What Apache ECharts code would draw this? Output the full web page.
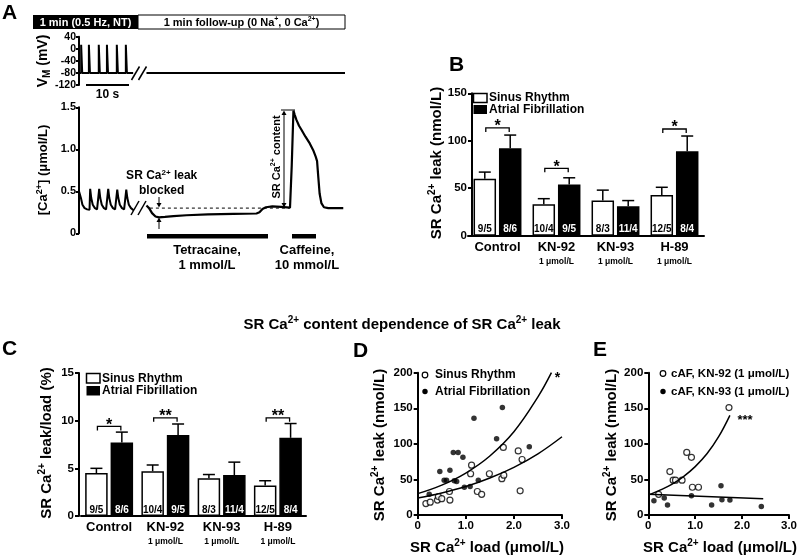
<!DOCTYPE html>
<html><head><meta charset="utf-8">
<script src="https://cdn.jsdelivr.net/npm/echarts@6/dist/echarts.min.js"></script>
<style>html,body{margin:0;padding:0;background:#fff}#c{width:800px;height:557px}</style>
</head><body><div id="c"></div>
<script>
// ---------------- DATA ----------------
// Panel A: membrane potential (mV) and [Ca2+] trace (µmol/L) vs time (s)
const vmSpikeTimes = [0.5, 2.3, 4.6, 6.5, 8.8, 10.9];
const vmRest = -80;
const vmPeak = 13;
const vmStimEnd = 12.6;
const vmFollowStart = 15.7;
const vmFollowEnd = 61.9;
const caStim = [
  [0,0.50],[0.15,0.52],[0.45,0.42],[0.8,0.34],[1.3,0.30],[1.9,0.285],[2.45,0.28],
  [2.6,0.53],[2.85,0.42],[3.2,0.34],[3.7,0.30],[4.2,0.285],[4.55,0.28],
  [4.7,0.53],[4.95,0.42],[5.3,0.34],[5.8,0.30],[6.3,0.285],[6.65,0.28],
  [6.8,0.53],[7.05,0.42],[7.4,0.34],[7.9,0.30],[8.4,0.285],[8.75,0.28],
  [8.9,0.52],[9.15,0.42],[9.5,0.34],[10.0,0.30],[10.5,0.285],[10.85,0.28],
  [11.0,0.52],[11.25,0.42],[11.6,0.34],[12.1,0.30],[12.7,0.275]
];
const caFollow = [
  [15.7,0.33],[16.3,0.30],[17.0,0.24],[17.8,0.20],[18.6,0.19],[20,0.195],[22,0.205],
  [25,0.215],[30,0.225],[36,0.232],[41.3,0.236],[42.0,0.25],[42.7,0.29],[43.5,0.31],
  [45,0.32],[47,0.315],[49.1,0.305],[49.5,0.8],[49.9,1.46],[50.2,1.41],[50.6,1.35],
  [51.2,1.28],[51.8,1.23],[52.7,1.15],[53.7,1.07],[54.5,0.99],[55.1,0.91],[55.4,0.86],
  [55.7,0.66],[56.0,0.47],[56.4,0.36],[57.0,0.31],[58,0.30],[61.5,0.30]
];
const caRefLevel = 0.3;
const caRefSpan = [16.5, 49];

// Panels B & C: bar charts
const barCategories = ['Control', 'KN-92', 'KN-93', 'H-89'];
const barSubLabels = ['', '1 μmol/L', '1 μmol/L', '1 μmol/L'];
const leakSR = [60, 33, 37, 43];
const leakSRsem = [7, 6, 11, 8];
const leakAF = [92, 54, 31, 89];
const leakAFsem = [14, 7, 6, 16];
const ratioSR = [4.5, 4.7, 3.95, 3.2];
const ratioSRsem = [0.5, 0.65, 0.4, 0.5];
const ratioAF = [7.7, 8.5, 4.3, 8.2];
const ratioAFsem = [1.1, 1.15, 1.35, 1.5];
const nSR = ['9/5', '10/4', '8/3', '12/5'];
const nAF = ['8/6', '9/5', '11/4', '8/4'];
const leakSigCats = [0, 1, 3];
const leakSigLevels = [113.5, 71, 112.4];
const leakSigMarks = ['*', '*', '*'];
const ratioSigCats = [0, 1, 3];
const ratioSigLevels = [9.4, 10.3, 10.3];
const ratioSigMarks = ['*', '**', '**'];

// Panel D: SR Ca2+ load (µmol/L) vs leak (nmol/L)
const dSR = [[0.17,16],[0.26,18],[0.41,21],[0.43,26],[0.5,23],[0.67,21],[0.66,33],[1.12,70],[1.10,58],
  [1.24,33],[1.33,29],[1.49,58],[1.78,95],[1.75,51],[1.79,56],[2.09,90],[2.17,78],[2.13,34]];
const dAF = [[0.24,29],[0.46,61],[0.67,63],[0.55,49],[0.6,49],[0.74,88],[0.84,88],[0.94,81],[1.17,136],
  [1.76,151],[1.64,107],[2.32,96],[0.76,48],[0.81,47],[0.97,39],[1.09,40],[1.26,49]];
const dFitSR = [[0,24],[0.5,31],[1,40],[1.5,52],[2,67],[2.5,86],[3,110]];
const dFitAF = [[0,30],[0.5,42],[1,59],[1.5,83],[2,117],[2.5,166],[2.78,200]];

// Panel E
const eKN92 = [[1.72,151],[0.82,88],[0.92,81],[0.46,61],[0.53,49],[0.58,49],[0.72,49],[0.94,39],[1.07,39],[0.22,29]];
const eKN93 = [[0.12,20],[0.34,24],[0.41,14],[0.92,27],[1.35,14],[1.55,41],[1.57,21.5],[1.74,21],[2.41,12]];
const eFit92 = [[0,28],[0.25,35],[0.5,43],[0.75,54],[1,68],[1.25,86],[1.5,110],[1.74,140]];
const eFit93 = [[0,29],[2.45,23]];

// ---------------- STYLE / HELPERS ----------------
const F = "'Liberation Sans', Arial, Helvetica, sans-serif";
const BW = 22.5, GAP = 0.13, OFF = (BW + BW * GAP) / 2, CAP = 6;

function axisBase(extra) {
  return Object.assign({
    axisLine: { show: true, lineStyle: { color: '#000', width: 2 } },
    axisTick: { show: true, length: 4, lineStyle: { color: '#000', width: 2 } },
    axisLabel: { color: '#000', fontFamily: F, fontWeight: 'bold', fontSize: 11.5, margin: 5 },
    splitLine: { show: false }
  }, extra);
}
function dec1(v) { return v === 0 ? '0' : v.toFixed(1); }

function R(x, y, str, size, rot) {
  let txt = '{a|' + str.replace(/\^\{([^}]*)\}/g, '}{s|$1}{a|').replace(/_\{([^}]*)\}/g, '}{b|$1}{a|') + '}';
  txt = txt.replace(/\{a\|\}/g, '');
  const ss = Math.round(size * 0.68);
  return { type: 'text', x, y, rotation: rot || 0, z: 100, style: {
    text: txt, align: 'center', verticalAlign: 'middle',
    rich: {
      a: { fontSize: size, fontWeight: 'bold', fontFamily: F, fill: '#000', lineHeight: Math.round(size * 1.25) },
      s: { fontSize: ss, fontWeight: 'bold', fontFamily: F, fill: '#000', verticalAlign: 'top', lineHeight: ss },
      b: { fontSize: ss, fontWeight: 'bold', fontFamily: F, fill: '#000', verticalAlign: 'bottom', lineHeight: ss }
    } } };
}
function T(x, y, text, size, o) {
  o = o || {};
  return { type: 'text', x, y, rotation: o.rot || 0, z: 100, style: {
    text, fill: o.fill || '#000', font: 'bold ' + size + 'px ' + F,
    align: o.align || 'center', verticalAlign: o.va || 'middle' } };
}
function L(x1, y1, x2, y2, w) {
  return { type: 'line', z: 100, shape: { x1, y1, x2, y2 }, style: { stroke: '#000', lineWidth: w || 2 } };
}
function P(points) {
  return { type: 'polygon', z: 100, shape: { points }, style: { fill: '#000' } };
}
function Rect(x, y, w, h, fill, stroke, lw) {
  return { type: 'rect', z: 100, shape: { x, y, width: w, height: h },
    style: { fill, stroke: stroke || null, lineWidth: lw || 0 } };
}

function errSeries(xi, yi, means, sems, side) {
  return {
    type: 'custom', xAxisIndex: xi, yAxisIndex: yi, silent: true, z: 5,
    data: means.map((m, i) => [i, m, m + sems[i]]),
    renderItem(params, api) {
      const b = api.coord([api.value(0), api.value(1)]);
      const t = api.coord([api.value(0), api.value(2)]);
      const x = b[0] + side * OFF;
      return { type: 'group', children: [
        { type: 'line', shape: { x1: x, y1: b[1], x2: x, y2: t[1] }, style: { stroke: '#000', lineWidth: 1.5 } },
        { type: 'line', shape: { x1: x - CAP, y1: t[1], x2: x + CAP, y2: t[1] }, style: { stroke: '#000', lineWidth: 1.5 } }
      ] };
    }
  };
}
function sigSeries(xi, yi, cats, levels, marks) {
  return {
    type: 'custom', xAxisIndex: xi, yAxisIndex: yi, silent: true, z: 6,
    data: cats.map((c, i) => [c, levels[i]]),
    renderItem(params, api) {
      const p = api.coord([api.value(0), api.value(1)]);
      const x1 = p[0] - OFF + 1, x2 = p[0] + OFF - 1, y = p[1];
      return { type: 'group', children: [
        { type: 'polyline', shape: { points: [[x1, y + 4], [x1, y], [x2, y], [x2, y + 4]] }, style: { stroke: '#000', lineWidth: 1.3, fill: null } },
        { type: 'text', x: p[0], y: y - 1, style: { text: marks[params.dataIndex], font: 'bold 16px ' + F, fill: '#000', align: 'center', verticalAlign: 'middle' } }
      ] };
    }
  };
}
function barSeries(xi, yi, values, labels, isAF) {
  return {
    type: 'bar', xAxisIndex: xi, yAxisIndex: yi, data: values, barWidth: BW, barGap: (GAP * 100) + '%', z: 2,
    itemStyle: { color: isAF ? '#000' : '#fff', borderColor: '#000', borderWidth: 1.5 },
    label: { show: true, position: 'insideBottom', distance: 1, formatter: p => labels[p.dataIndex],
      color: isAF ? '#fff' : '#000', fontSize: 10, fontWeight: 'bold', fontFamily: F }
  };
}
function catAxis(gi) {
  return axisBase({
    type: 'category', gridIndex: gi, data: barCategories,
    axisTick: { show: false },
    axisLabel: {
      interval: 0, margin: 4, color: '#000',
      formatter: (v, i) => barSubLabels[i] ? '{a|' + v + '}\n{s|' + barSubLabels[i] + '}' : '{a|' + v + '}',
      rich: {
        a: { fontSize: 13, fontWeight: 'bold', fontFamily: F, lineHeight: 15, color: '#000' },
        s: { fontSize: 8.5, fontWeight: 'bold', fontFamily: F, lineHeight: 14, color: '#000' }
      }
    }
  });
}
const lineStyle = w => ({ color: '#000', width: w });

// Vm trace built from spike times
const vmStim = [[0, vmRest]];
vmSpikeTimes.forEach(t => { vmStim.push([t, vmRest], [t, vmPeak], [t + 0.25, vmRest]); });
vmStim.push([vmStimEnd, vmRest]);
const vmFollow = [[vmFollowStart, vmRest], [vmFollowEnd, vmRest]];

// ---------------- GRAPHICS (annotations) ----------------
const graphics = [
  // panel letters
  T(2, 3, 'A', 21, { align: 'left', va: 'top' }),
  T(449, 55, 'B', 21, { align: 'left', va: 'top' }),
  T(2, 339, 'C', 21, { align: 'left', va: 'top' }),
  T(353, 341, 'D', 21, { align: 'left', va: 'top' }),
  T(593, 340, 'E', 21, { align: 'left', va: 'top' }),
  // A protocol header
  Rect(33, 15, 105, 14, '#000'),
  Rect(138, 15, 207, 14, '#fff', '#000', 1),
  T(85.5, 22.5, '1 min (0.5 Hz, NT)', 11, { fill: '#fff' }),
  R(241.5, 22.5, '1 min follow-up (0 Na^{+}, 0 Ca^{2+})', 11),
  R(43, 61, 'V_{M} (mV)', 14, Math.PI / 2),
  L(86, 85, 129, 85, 2), T(107.5, 94.5, '10 s', 12),
  L(131.5, 80, 139.5, 66.5, 1.5), L(138.5, 80, 146.5, 66.5, 1.5),
  R(43, 170, '[Ca^{2+}] (μmol/L)', 13, Math.PI / 2),
  L(131, 215, 139, 201, 1.5), L(138, 215, 146, 201, 1.5),
  R(161.7, 176, 'SR Ca^{2+} leak', 12), T(161.7, 190.5, 'blocked', 12),
  L(159, 197, 159, 204, 1), P([[156.5, 203], [161.5, 203], [159, 207.5]]),
  L(159, 229, 159, 222, 1), P([[156.5, 222], [161.5, 222], [159, 217.5]]),
  L(284, 113, 284, 204, 1), P([[281.5, 115], [286.5, 115], [284, 110.5]]), P([[281.5, 203], [286.5, 203], [284, 207.5]]),
  L(281, 110, 295, 110, 1),
  R(276.5, 157, 'SR Ca^{2+} content', 11, Math.PI / 2),
  Rect(147, 234, 121, 4.5, '#000'), Rect(292, 234, 24, 4.5, '#000'),
  T(207, 250, 'Tetracaine,', 13), T(207, 265.5, '1 mmol/L', 13),
  T(307, 250, 'Caffeine,', 13), T(307, 265.5, '10 mmol/L', 13),
  // title
  R(402, 325, 'SR Ca^{2+} content dependence of SR Ca^{2+} leak', 15),
  // B
  Rect(473.5, 93.5, 13.5, 9, '#fff', '#000', 1.5), Rect(473.5, 105, 13.5, 9, '#000'),
  T(489, 98, 'Sinus Rhythm', 12, { align: 'left' }), T(489, 109.5, 'Atrial Fibrillation', 12, { align: 'left' }),
  R(437, 163, 'SR Ca^{2+} leak (nmol/L)', 15, Math.PI / 2),
  // C
  Rect(86.5, 373.5, 13.5, 9.5, '#fff', '#000', 1.5), Rect(86.5, 386, 13.5, 9.5, '#000'),
  T(102, 378.5, 'Sinus Rhythm', 12, { align: 'left' }), T(102, 391, 'Atrial Fibrillation', 12, { align: 'left' }),
  R(47, 443, 'SR Ca^{2+} leak/load (%)', 15, Math.PI / 2),
  // D
  { type: 'circle', z: 100, shape: { cx: 425, cy: 375, r: 2.8 }, style: { fill: '#fff', stroke: '#000', lineWidth: 1.2 } },
  { type: 'circle', z: 100, shape: { cx: 425, cy: 391.5, r: 2.7 }, style: { fill: '#000' } },
  T(435, 375, 'Sinus Rhythm', 12, { align: 'left' }), T(435, 391.5, 'Atrial Fibrillation', 12, { align: 'left' }),
  R(380, 445, 'SR Ca^{2+} leak (nmol/L)', 15, Math.PI / 2),
  R(487, 548, 'SR Ca^{2+} load (μmol/L)', 15),
  T(557.5, 378.5, '*', 14),
  // E
  { type: 'circle', z: 100, shape: { cx: 663, cy: 373.5, r: 2.8 }, style: { fill: '#fff', stroke: '#000', lineWidth: 1.2 } },
  { type: 'circle', z: 100, shape: { cx: 663, cy: 391.5, r: 2.7 }, style: { fill: '#000' } },
  T(671, 373.5, 'cAF, KN-92 (1 μmol/L)', 11.5, { align: 'left' }), T(671, 391.5, 'cAF, KN-93 (1 μmol/L)', 11.5, { align: 'left' }),
  R(612, 445, 'SR Ca^{2+} leak (nmol/L)', 15, Math.PI / 2),
  R(720, 548, 'SR Ca^{2+} load (μmol/L)', 15),
  T(745, 420, '***', 13)
];

// ---------------- OPTION ----------------
const option = {
  animation: false,
  backgroundColor: '#fff',
  grid: [
    { left: 79, top: 36.7, width: 266, height: 48.3 },
    { left: 79, top: 107.3, width: 266, height: 126 },
    { left: 468, top: 93.3, width: 236, height: 142.4 },
    { left: 81, top: 373, width: 225, height: 143 },
    { left: 417.7, top: 372.7, width: 144.3, height: 142.3 },
    { left: 648.3, top: 372.7, width: 146.7, height: 142.3 }
  ],
  xAxis: [
    { type: 'value', gridIndex: 0, min: 0, max: vmFollowEnd, show: false },
    { type: 'value', gridIndex: 1, min: 0, max: vmFollowEnd, show: false },
    catAxis(2),
    catAxis(3),
    axisBase({ type: 'value', gridIndex: 4, min: 0, max: 3, interval: 1, axisLabel: { color: '#000', fontFamily: F, fontWeight: 'bold', fontSize: 11.5, margin: 5, formatter: dec1 } }),
    axisBase({ type: 'value', gridIndex: 5, min: 0, max: 3, interval: 1, axisLabel: { color: '#000', fontFamily: F, fontWeight: 'bold', fontSize: 11.5, margin: 5, formatter: dec1 } })
  ],
  yAxis: [
    axisBase({ type: 'value', gridIndex: 0, min: -120, max: 40, interval: 40, axisTick: { length: 3, lineStyle: { color: '#000', width: 2 } }, axisLabel: { color: '#000', fontFamily: F, fontWeight: 'bold', fontSize: 10.5, margin: 3 } }),
    axisBase({ type: 'value', gridIndex: 1, min: 0, max: 1.5, interval: 0.5, axisTick: { length: 3, lineStyle: { color: '#000', width: 2 } }, axisLabel: { color: '#000', fontFamily: F, fontWeight: 'bold', fontSize: 11, margin: 3, formatter: dec1 } }),
    axisBase({ type: 'value', gridIndex: 2, min: 0, max: 150, interval: 50, offset: -4 }),
    axisBase({ type: 'value', gridIndex: 3, min: 0, max: 15, interval: 5, offset: 2 }),
    axisBase({ type: 'value', gridIndex: 4, min: 0, max: 200, interval: 50 }),
    axisBase({ type: 'value', gridIndex: 5, min: 0, max: 200, interval: 50 })
  ],
  series: [
    // A
    { type: 'line', xAxisIndex: 0, yAxisIndex: 0, data: vmStim, symbol: 'none', lineStyle: lineStyle(2) },
    { type: 'line', xAxisIndex: 0, yAxisIndex: 0, data: vmFollow, symbol: 'none', lineStyle: lineStyle(2) },
    { type: 'line', xAxisIndex: 1, yAxisIndex: 1, data: caStim, symbol: 'none', lineStyle: lineStyle(2) },
    { type: 'line', xAxisIndex: 1, yAxisIndex: 1, data: caFollow, symbol: 'none', lineStyle: lineStyle(2.2) },
    { type: 'line', xAxisIndex: 1, yAxisIndex: 1, data: [[caRefSpan[0], caRefLevel], [caRefSpan[1], caRefLevel]], symbol: 'none', lineStyle: { color: '#000', width: 1, type: [3, 3] } },
    // B
    barSeries(2, 2, leakSR, nSR, false),
    barSeries(2, 2, leakAF, nAF, true),
    errSeries(2, 2, leakSR, leakSRsem, -1),
    errSeries(2, 2, leakAF, leakAFsem, 1),
    sigSeries(2, 2, leakSigCats, leakSigLevels, leakSigMarks),
    // C
    barSeries(3, 3, ratioSR, nSR, false),
    barSeries(3, 3, ratioAF, nAF, true),
    errSeries(3, 3, ratioSR, ratioSRsem, -1),
    errSeries(3, 3, ratioAF, ratioAFsem, 1),
    sigSeries(3, 3, ratioSigCats, ratioSigLevels, ratioSigMarks),
    // D
    { type: 'line', xAxisIndex: 4, yAxisIndex: 4, data: dFitSR, smooth: 0.4, symbol: 'none', lineStyle: lineStyle(1.5) },
    { type: 'line', xAxisIndex: 4, yAxisIndex: 4, data: dFitAF, smooth: 0.4, symbol: 'none', lineStyle: lineStyle(1.5) },
    { type: 'scatter', xAxisIndex: 4, yAxisIndex: 4, data: dSR, symbol: 'circle', symbolSize: 6, itemStyle: { color: '#fff', borderColor: '#000', borderWidth: 1.2 } },
    { type: 'scatter', xAxisIndex: 4, yAxisIndex: 4, data: dAF, symbol: 'circle', symbolSize: 5.5, itemStyle: { color: '#000' } },
    // E
    { type: 'line', xAxisIndex: 5, yAxisIndex: 5, data: eFit92, smooth: 0.4, symbol: 'none', lineStyle: lineStyle(1.5) },
    { type: 'line', xAxisIndex: 5, yAxisIndex: 5, data: eFit93, symbol: 'none', lineStyle: lineStyle(1.5) },
    { type: 'scatter', xAxisIndex: 5, yAxisIndex: 5, data: eKN92, symbol: 'circle', symbolSize: 6, itemStyle: { color: '#fff', borderColor: '#000', borderWidth: 1.2 } },
    { type: 'scatter', xAxisIndex: 5, yAxisIndex: 5, data: eKN93, symbol: 'circle', symbolSize: 5.5, itemStyle: { color: '#000' } }
  ],
  graphic: graphics
};
const chart = echarts.init(document.getElementById('c'), null, { renderer: 'canvas' });
chart.setOption(option);
</script></body></html>
